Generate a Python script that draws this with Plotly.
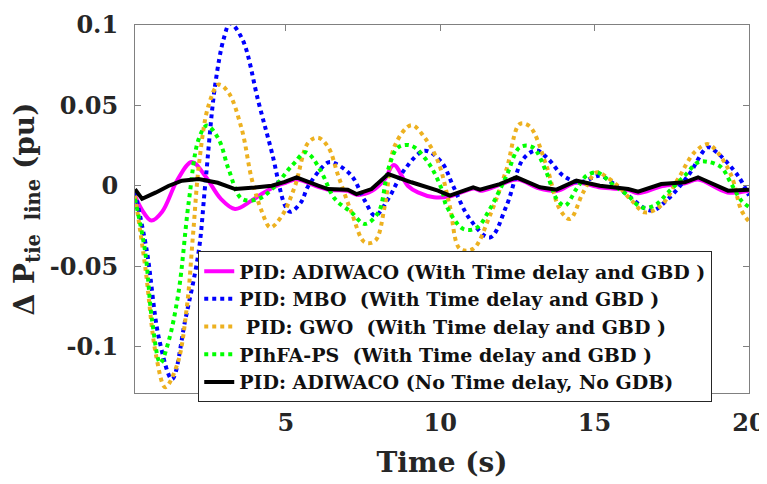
import plotly.graph_objects as go

# ---------------- data ----------------
mag_x = [0.12, 0.35, 0.65, 1.0, 1.5, 1.96, 2.4, 2.9, 3.36, 3.9, 4.3, 4.7, 5.0, 5.35, 6.05, 6.4, 7.0, 7.3,
         7.8, 8.2, 8.5, 8.96, 9.28, 9.8, 10.3, 11.1, 11.3, 11.9, 12.5, 13.2, 13.8, 14.4, 15.2, 16.1, 16.4,
         17.2, 17.9, 18.35, 19.3, 20.0]
mag_y = [-0.006, -0.015, -0.0215, -0.016, 0.004, 0.0149, 0.006, -0.008, -0.0143, -0.009, -0.004, 0.0, 0.002,
         0.004, -0.0005, -0.0025, -0.003, -0.0055, -0.003, 0.004, 0.013, 0.0, -0.004, -0.007, -0.0065, -0.0015,
         -0.003, 0.0005, 0.004, -0.0015, -0.003, 0.002, -0.001, -0.0025, -0.0045, 0.0, 0.0015, 0.004, -0.004,
         -0.003]

mbo_x = [0.12, 0.5, 0.9, 1.32, 1.75, 2.18, 2.39, 2.71, 3.0, 3.2, 3.6, 4.12, 4.55, 4.98, 5.15, 5.5, 5.73,
         6.38, 6.6, 7.13, 7.56, 7.89, 8.32, 8.86, 9.5, 10.05, 10.42, 10.96, 11.61, 12.15, 12.69, 13.12, 13.5,
         13.98, 14.52, 15.17, 15.55, 16.09, 16.84, 17.38, 18.03, 18.67, 18.95, 19.64, 20.0]
mbo_y = [-0.004, -0.04, -0.095, -0.12, -0.083, -0.041, 0.0, 0.062, 0.092, 0.101, 0.091, 0.052, 0.021,
         -0.0122, -0.016, -0.01, 0.0, 0.0147, 0.014, 0.0064, -0.0091, -0.0184, -0.008, 0.0105, 0.0219, 0.0147,
         0.0, -0.0205, -0.032, -0.0122, 0.0168, 0.022, 0.0167, 0.0064, 0.0023, 0.0064, 0.0023, -0.006, -0.0153,
         -0.008, 0.0064, 0.024, 0.021, 0.0064, -0.006]

gwo_x = [0.12, 0.45, 0.8, 1.1, 1.5, 1.8, 2.0, 2.2, 2.5, 2.83, 3.15, 3.58, 3.9, 4.23, 4.5, 4.88, 5.3, 5.73,
         6.05, 6.38, 6.7, 7.13, 7.56, 7.9, 8.21, 8.53, 9.07, 9.5, 9.94, 10.31, 10.64, 11.07, 11.61, 12.15,
         12.58, 12.9, 13.44, 13.87, 14.2, 14.63, 15.06, 15.33, 15.76, 16.2, 16.63, 17.16, 17.7, 18.24, 18.67,
         19.0, 19.43, 19.75, 20.0]
gwo_y = [-0.006, -0.05, -0.105, -0.125, -0.11, -0.075, -0.03, 0.015, 0.05, 0.063, 0.058, 0.035, 0.0043,
         -0.016, -0.0257, -0.0184, 0.0, 0.027, 0.030, 0.024, 0.0064, -0.0164, -0.035, -0.034, -0.0122, 0.025,
         0.0378, 0.030, 0.0147, -0.0122, -0.039, -0.039, -0.0184, 0.0105, 0.0385, 0.037, 0.0126, -0.0143,
         -0.0205, -0.004, 0.0085, 0.0064, 0.0, -0.009, -0.0164, -0.012, 0.0043, 0.021, 0.026, 0.0205, 0.0064,
         -0.015, -0.022]

pihfa_x = [0.12, 0.45, 0.67, 0.94, 1.2, 1.53, 1.86, 2.18, 2.45, 2.83, 3.15, 3.58, 4.12, 4.66, 5.1, 5.3, 5.62,
           5.8, 6.16, 6.59, 7.13, 7.56, 8.0, 8.32, 8.64, 9.07, 9.61, 10.05, 10.2, 10.75, 11.18, 11.61, 12.15,
           12.58, 13.0, 13.44, 13.77, 14.04, 14.41, 14.74, 15.06, 15.2, 15.65, 16.09, 16.52, 16.95, 17.38,
           17.92, 18.35, 18.67, 19.1, 19.43, 19.75, 20.0]
pihfa_y = [-0.008, -0.041, -0.083, -0.11, -0.097, -0.066, -0.010, 0.029, 0.0375, 0.029, 0.0105, -0.008,
           -0.008, 0.0, 0.0105, 0.0147, 0.021, 0.019, 0.0085, -0.008, -0.0164, -0.0236, -0.0164, 0.0105, 0.024,
           0.025, 0.0147, -0.002, -0.0122, -0.0267, -0.026, -0.0143, 0.0064, 0.024, 0.024, 0.0085, -0.008,
           -0.0122, -0.0019, 0.0064, 0.0085, 0.0074, 0.0, -0.006, -0.0133, -0.012, -0.004, 0.0064, 0.0147,
           0.015, 0.0116, 0.0012, -0.009, -0.013]

nodelay_x = [0.12, 0.35, 0.8, 1.2, 1.64, 2.18, 2.8, 3.36, 4.0, 4.55, 4.97, 5.35, 6.05, 6.37, 7.01, 7.29,
             7.78, 8.32, 9.07, 9.93, 10.31, 11.07, 11.29, 11.93, 12.47, 13.23, 13.77, 14.41, 15.17, 16.09,
             16.41, 17.16, 17.92, 18.35, 19.32, 20.0]
nodelay_y = [-0.002, -0.008, -0.004, 0.0, 0.0033, 0.0043, 0.002, -0.0019, -0.001, 0.0002, 0.0025, 0.0054,
             0.0002, -0.0019, -0.0023, -0.005, -0.0019, 0.0074, 0.0023, -0.0029, -0.006, -0.0008, -0.0023,
             0.0012, 0.0054, -0.0008, -0.0023, 0.0033, 0.0002, -0.0019, -0.0035, 0.0012, 0.0023, 0.0054,
             -0.0029, -0.0023]

names = [
    "PID: ADIWACO (With Time delay and GBD )",
    "PID: MBO\u00a0 (With Time delay and GBD )",
    "\u00a0PID: GWO\u00a0 (With Time delay and GBD )",
    "PIhFA-PS\u00a0 (With Time delay and GBD )",
    "PID: ADIWACO (No Time delay, No GDB)",
]
colors = ["#FF00FF", "#0000FF", "#EDB120", "#00FF00", "#000000"]

x_ticks = [5, 10, 15, 20]
y_ticks = [-0.1, -0.05, 0, 0.05, 0.1]
y_tick_text = ["-0.1", "-0.05", "0", "0.05", "0.1"]

# ---------------- figure ----------------
fig = go.Figure()
series = [(mag_x, mag_y), (mbo_x, mbo_y), (gwo_x, gwo_y), (pihfa_x, pihfa_y), (nodelay_x, nodelay_y)]
dashes = ["solid", "4px,4px", "4px,4px", "4px,4px", "solid"]
shapes = ["spline", "spline", "spline", "spline", "linear"]
for (xs, ys), nm, c, d, s in zip(series, names, colors, dashes, shapes):
    fig.add_trace(go.Scatter(x=xs, y=ys, mode="lines", name=nm,
                             line=dict(color=c, width=4, dash=d, shape=s)))

font_family = "DejaVu Serif, serif"
# page body has an 8px margin, so the figure is sized 8px smaller
fig.update_layout(
    width=759, height=476,
    margin=dict(l=127, r=18, t=17, b=91),
    plot_bgcolor="white", paper_bgcolor="white",
    font=dict(family=font_family, color="#262626"),
    showlegend=True,
    legend=dict(x=0.103, y=0.385, xanchor="left", yanchor="top",
                bgcolor="white", bordercolor="#262626", borderwidth=1,
                font=dict(family=font_family, size=19, color="#111111", weight="bold"),
                itemwidth=30, tracegroupgap=0),
)
fig.update_xaxes(range=[0.12, 20], tickvals=x_ticks, ticks="inside", ticklen=6, tickcolor="#808080",
                 showline=True, linecolor="#808080", linewidth=1, mirror="ticks", showgrid=False,
                 zeroline=False, automargin=False, ticklabelstandoff=8,
                 tickfont=dict(size=24, weight="bold", family=font_family, color="#262626"),
                 title=dict(text="Time (s)", font=dict(size=28, weight="bold", family=font_family,
                                                        color="#262626"), standoff=16))
fig.update_yaxes(range=[-0.1286, 0.1], tickvals=y_ticks, ticktext=y_tick_text, ticks="inside", ticklen=6,
                 tickcolor="#808080", showline=True, linecolor="#808080", linewidth=1, mirror="ticks",
                 showgrid=False, zeroline=False, automargin=False, ticklabelstandoff=11,
                 tickfont=dict(size=24, weight="bold", family=font_family, color="#262626"),
                 title=dict(text="\u0394 P<sub>tie  line</sub> (pu)",
                            font=dict(size=28, weight="bold", family=font_family, color="#262626"),
                            standoff=12))

fig.write_html("out.html")
